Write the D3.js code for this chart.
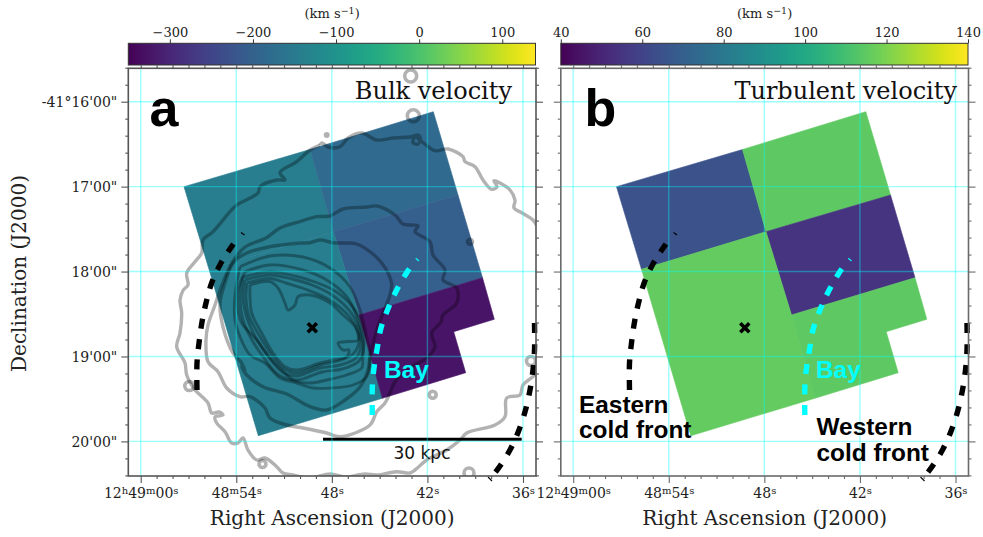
<!DOCTYPE html>
<html><head><meta charset="utf-8">
<script src="https://cdn.jsdelivr.net/npm/d3@7"></script>
<style>html,body{margin:0;padding:0;background:#fff}svg{display:block}</style>
</head><body><svg id="c" width="983" height="537"></svg>
<script>
// Values: velocities per spectral region (km/s)
const regionNames = ["NW","NE","E","SW","SE"];
const bulkVelocity = [-144,-183,-203,-144,-325];
const turbulentVelocity = [65,115,55,116,115];
// Region outlines, contours and fronts in sky-map pixels
const regionNW = [[184,186.7],[310,149.5],[333.5,231.7],[209,269.3]];
const regionNE = [[310,149.5],[433.3,111.7],[458,195],[333.5,231.7]];
const regionE  = [[333.5,231.7],[458,195],[482.5,277.7],[359,315]];
const regionSW = [[209,269.3],[333.5,231.7],[359,315],[382.3,398.3],[258.3,435.7]];
const regionSE = [[359,315],[482.5,277.7],[494.3,319.3],[453.7,331.7],[465.7,372.7],[382.3,398.3]];

const contourOuter = [[320,145],[322,143],[328,147],[340,146.7],[348,138],[361.7,133],[376.7,140],[393,138],[411.7,136.7],[418,135],[420.5,139],[418,144],[413,142.7],[415,137],[423,142.7],[435,150.7],[448,149],[463,156.7],[465,161.7],[475,166.7],[483,180],[491.7,189.3],[497,187],[494,180.7],[500,183],[510,190],[515,200],[514,208],[521.7,212.7],[533,220],[538,228]];
const contourOuter2 = [[540,370],[535,375],[523,385],[520,395],[506.7,398],[505,416.7],[495,425],[466.7,433],[460,440],[446.7,450],[426.7,460],[415,470],[410,473],[396.7,471.7],[376.7,475],[365,474],[345,477],[330,474],[310,478],[293,475],[283,473],[276.7,466.7],[265,458],[256.7,460],[248,450],[243,438],[238,443],[231.7,443],[225,431.7],[216.7,423],[215,417],[223,415],[219,412],[211.7,413],[208,403],[198,393],[195,390],[186.7,375],[185,363],[176.7,346.7],[180,333],[181.7,313],[180,300],[183.3,290],[188,285],[186.7,273],[195,261.7],[201.7,253],[203,240],[213,231.7],[230,211.7],[236.7,205],[258,193],[260,186.7],[276.7,180],[285,180],[280,172.7],[296.7,161.7],[310,150],[320,145]];
const contour2 = [[300,221.7],[316.7,216.7],[330,216],[343,209],[366.7,207],[377,206],[395,215],[403,224],[418,226],[415,231.7],[430,241.7],[433,255],[445,270],[443,280],[456.7,288],[456.7,303],[443,315],[441,322],[431.7,333],[435,347],[426.7,358],[411.7,366.7],[395,381.7],[390,393],[385,403],[376.7,411.7],[370,425],[340,436.7],[326.7,433],[303,428],[286.7,425],[270,418],[265,408],[250,396.7],[240,396.7],[226.7,388],[218,371.7],[208,361.7],[206,340],[208,325],[215,305],[222,285],[232,263],[245,247],[266,238],[280,228],[300,221.7]];
const contour3 = [[300,243],[310,242.7],[320,240],[333,242.7],[345,243],[356.7,244],[371.7,253],[381.7,263],[388,273],[391.7,284],[390,295],[383,313],[376.7,330],[370,357],[368,370],[360,387],[345,400],[326.7,410],[310,406.7],[286.7,394],[263,386.7],[246.7,375],[241.7,366.7],[245,371],[241,362],[233,353],[223,327],[220,303],[225,283],[233,263],[246.7,253],[270,246.7],[300,243]];
const contour4 = [[240,266.7],[270,256],[303,257],[330,268],[350,287],[360,310],[366.7,337],[370,357],[366.7,376.7],[353,385],[330,388],[313,388],[296.7,383],[280,378],[265,363],[250,355],[240,336.7],[235,320],[235,295],[240,266.7]];
const contour5 = [[245,271.7],[270,265],[303,270],[326.7,280],[346.7,296.7],[358,320],[363,343],[362.7,360],[361.7,368],[346.7,375],[326.7,380],[310,383],[293,380],[281.7,370],[270,358],[256.7,340],[241.7,323],[238,310],[238,290],[245,271.7]];
const contour6 = [[243,277],[270,272],[295,276],[315,282],[335,291],[352,306],[362,325],[364,345],[359,361],[342,369],[322,372],[297,380],[279,375],[264,358],[252,340],[243,320],[240,298],[243,277]];
const contour7 = [[245,280],[270,275],[292,279],[312,285],[332,295],[349,310],[359,328],[361,345],[356,358],[340,365],[320,368],[297,376],[282,372],[268,356],[256,338],[247,318],[243,298],[245,280]];
const contour8 = [[247,283],[270,278.5],[286,283],[305,289],[328,299],[346,313],[357,329],[359,342],[353,354],[338,361],[320,365],[297,373],[284,369],[271,354],[259,335],[249,316],[246,298],[247,283]];
const contour9 = [[250,285],[270,281.7],[278,288],[285,303],[288,310],[295,305],[298,296.7],[310,295],[330,303],[343,315],[355,326.7],[358,340],[345,341.7],[338,343],[343,350],[349,350],[346.7,356.7],[333,360],[320,363],[296.7,370],[285,366.7],[273,353],[261.7,333],[251.7,313],[250,296.7],[250,285]];
const contourRings = [[410.7,76,6],[413.3,115.7,6],[262.5,464,3.5],[189.3,386,4.5],[432.7,394.7,3.5],[531,361,4.5],[469,473,5],[470,241.7,2.5]];
const contourDots = [[326.7,135,3]];

const frontEast = [[197,390],[197,363],[199,343],[202,322],[206,303],[212,282],[221,263],[232,246],[239,236]];
const frontWest = [[534.5,323],[534.5,350],[533,370],[530,390],[525.5,410],[519,430],[510.5,449],[500,466],[494,474]];
const frontBay  = [[372.3,415],[372.3,388],[374,368],[377.3,348],[381,328],[388.3,308],[396.7,290],[407.3,271.7],[412,265]];
const tailEast = [[241,232.5],[244.5,235]];
const tailWest = [[488,477],[492,481]];
const tailBay  = [[415.7,258.3],[419,261]];
const nucleus = [312.3,327.7];
const scaleBar = [323,521.7,439.3];

const raTicks = [60,54,48,42,36];
const raLabels = [["12","h","49","m","00","s"],["48","m","54","s"],["48","s"],["42","s"],["36","s"]];
const decTicks = [16,17,18,19,20];
const decLabels = ["-41°16'00\"","17'00\"","18'00\"","19'00\"","20'00\""];
const bulkCbarTicks = [-300,-200,-100,0,100];
const turbCbarTicks = [40,60,80,100,120,140];

const regions = [regionNW,regionNE,regionE,regionSW,regionSE];
const svg = d3.select("#c");
const serif = "'DejaVu Serif', serif", sans = "'Liberation Sans', Arial, sans-serif";
const frameTop=68.3, frameBottom=476;

function panel(o){
  const L=o.left, R=L+407.7;
  const g=svg.append("g");
  const mx=d3.scaleLinear().domain([128.3,536]).range([L,R]);
  const my=d3.scaleLinear().domain([68.3,476]).range([frameTop,frameBottom]);
  const ra=d3.scaleLinear().domain([60,36]).range([mx(140.7),mx(523)]);
  const dec=d3.scaleLinear().domain([16,20]).range([my(101.7),my(441.4)]);
  const id="clip"+o.letter;
  svg.append("clipPath").attr("id",id).append("rect").attr("x",L).attr("y",frameTop).attr("width",R-L).attr("height",frameBottom-frameTop);

  // colour bar
  const cs=d3.scaleLinear().domain(o.cdomain).range([L,R-0.5]);
  const col=d3.scaleSequential(d3.interpolateViridis).domain(o.cdomain);
  const gradId="grad"+o.letter;
  const grad=svg.append("defs").append("linearGradient").attr("id",gradId);
  d3.range(0,33).forEach(i=>{
    grad.append("stop").attr("offset",(i/32*100)+"%").attr("stop-color",d3.interpolateViridis(i/32));
  });
  g.append("rect").attr("x",L).attr("y",43.3).attr("width",R-0.5-L).attr("height",21.7).attr("fill",`url(#${gradId})`).attr("stroke","#333").attr("stroke-width",1);
  const cax=g.append("g").attr("transform","translate(0,43.3)").call(d3.axisTop(cs).tickValues(o.cticks).tickSize(4).tickSizeOuter(0).tickFormat(d=>String(d).replace("-","\u2212")));
  cax.select(".domain").remove();
  cax.selectAll("line").attr("stroke","#333");
  cax.selectAll("text").attr("font-family",serif).attr("font-size",13).attr("fill","#222").attr("y",-6.5);
  const cl=g.append("text").attr("x",(L+R)/2).attr("y",18).attr("text-anchor","middle").attr("font-family",serif).attr("font-size",13).attr("fill","#222");
  cl.append("tspan").text("(km s");
  cl.append("tspan").attr("dy",-4.5).attr("font-size",9.5).text("\u22121");
  cl.append("tspan").attr("dy",4.5).text(")");

  // regions
  const line=d3.line().x(d=>mx(d[0])).y(d=>my(d[1]));
  g.selectAll(".cell").data(regionNames).join("path")
    .attr("d",(d,i)=>line(regions[i])+"Z")
    .attr("fill",(d,i)=>col(o.values[i])).attr("stroke",(d,i)=>col(o.values[i])).attr("stroke-width",0.6);

  // contours
  if(o.contours){
    const cg=g.append("g").attr("clip-path",`url(#${id})`).attr("fill","none").attr("stroke","#000").attr("stroke-opacity",0.3).attr("stroke-linejoin","round");
    const curve=d3.line().x(d=>mx(d[0])).y(d=>my(d[1])).curve(d3.curveCatmullRom.alpha(0.5));
    [contourOuter,contourOuter2,contour2,contour3].forEach(c=>cg.append("path").attr("d",curve(c)).attr("stroke-width",3.4));
    [contour4,contour5,contour6,contour7,contour8,contour9].forEach(c=>cg.append("path").attr("d",curve(c)).attr("stroke-width",2.9));
    cg.selectAll(".ring").data(contourRings).join("circle").attr("cx",d=>mx(d[0])).attr("cy",d=>my(d[1])).attr("r",d=>d[2]).attr("stroke-width",3.6);
    cg.selectAll(".dot").data(contourDots).join("circle").attr("cx",d=>mx(d[0])).attr("cy",d=>my(d[1])).attr("r",d=>d[2]).attr("fill","#000").attr("fill-opacity",0.3).attr("stroke","none");
    // scale bar
    g.append("line").attr("x1",mx(scaleBar[0])).attr("x2",mx(scaleBar[1])).attr("y1",my(scaleBar[2])).attr("y2",my(scaleBar[2])).attr("stroke","#000").attr("stroke-width",3);
    g.append("text").attr("x",mx(422)).attr("y",my(459)).attr("text-anchor","middle").attr("font-family","'DejaVu Sans',sans-serif").attr("font-size",17).attr("fill","#111").text("30 kpc");
  }

  // grid
  const grid=g.append("g").attr("stroke","#00ffff").attr("stroke-opacity",0.38).attr("stroke-width",1.4);
  grid.selectAll(".gx").data(raTicks).join("line").attr("x1",d=>ra(d)).attr("x2",d=>ra(d)).attr("y1",frameTop).attr("y2",frameBottom);
  grid.selectAll(".gy").data(decTicks).join("line").attr("y1",d=>dec(d)).attr("y2",d=>dec(d)).attr("x1",L).attr("x2",R);

  // fronts
  const fl=d3.line().x(d=>mx(d[0])).y(d=>my(d[1])).curve(d3.curveCatmullRom.alpha(0.5));
  [[frontEast,"#000"],[frontWest,"#000"],[frontBay,"#00ffff"]].forEach(([f,c],i)=>{
    g.append("path").attr("d",fl(f)).attr("fill","none").attr("stroke",c).attr("stroke-width",5.4)
      .attr("stroke-dasharray",i==1?"10 11":"10 10.5");
  });
  [[tailEast,"#000"],[tailWest,"#000"],[tailBay,"#00ffff"]].forEach(([f,c])=>{
    g.append("path").attr("d",line(f)).attr("fill","none").attr("stroke",c).attr("stroke-width",1.1);
  });
  g.append("path").attr("transform",`translate(${mx(nucleus[0])},${my(nucleus[1])})`)
    .attr("d",d3.symbol(d3.symbolTimes,55)()).attr("stroke","#000").attr("stroke-width",3.6).attr("fill","none");

  // axes with ticks
  const raMinor=d3.range(36,61).filter(d=>!raTicks.includes(d));
  const decMinor=d3.range(78,103).map(d=>d/5).filter(d=>!decTicks.includes(d));
  const ax=g.append("g").attr("class","axes");
  function style(sel,c){sel.select(".domain").remove();sel.selectAll("line").attr("stroke",c).attr("stroke-width",1.1);}
  const tc=o.frame;
  const mk=(gen,tr)=>{const s=ax.append("g").attr("transform",tr).call(gen);style(s,tc);return s;};
  mk(d3.axisBottom(ra).tickValues(raMinor).tickSize(3).tickSizeOuter(0).tickFormat(""),`translate(0,${frameBottom})`);
  mk(d3.axisTop(ra).tickValues(raMinor).tickSize(3).tickSizeOuter(0).tickFormat(""),`translate(0,${frameTop})`);
  mk(d3.axisTop(ra).tickValues(raTicks).tickSize(3).tickSizeOuter(0).tickFormat(""),`translate(0,${frameTop})`);
  mk(d3.axisLeft(dec).tickValues(decMinor).tickSize(3).tickSizeOuter(0).tickFormat(""),`translate(${L},0)`);
  mk(d3.axisRight(dec).tickValues(decMinor).tickSize(3).tickSizeOuter(0).tickFormat(""),`translate(${R},0)`);
  mk(d3.axisRight(dec).tickValues(decTicks).tickSize(7).tickSizeOuter(0).tickFormat(""),`translate(${R},0)`);
  const yax=mk(d3.axisLeft(dec).tickValues(decTicks).tickSize(7).tickSizeOuter(0).tickFormat((d,i)=>o.ylabels?decLabels[i]:""),`translate(${L},0)`);
  yax.selectAll("text").attr("font-family",serif).attr("font-size",14).attr("fill","#222").attr("x",-11).attr("dy","0.36em");
  const xax=mk(d3.axisBottom(ra).tickValues(raTicks).tickSize(7).tickSizeOuter(0).tickFormat(""),`translate(0,${frameBottom})`);
  const xt=xax.selectAll(".tick").select("text").attr("font-family",serif).attr("font-size",14).attr("fill","#222").attr("y",21.5).attr("dy",null);
  xt.each(function(d,i){
    const t=d3.select(this);
    raLabels[i].forEach((p,j)=>{
      const sup=j%2==1;
      t.append("tspan").attr("font-size",sup?10:14).attr("dy",sup?-4:(j?4:0)).text(p);
    });
  });
  g.append("rect").attr("x",L).attr("y",frameTop).attr("width",R-L).attr("height",frameBottom-frameTop).attr("fill","none").attr("stroke",o.frame).attr("stroke-width",1.6);

  // texts
  g.append("text").attr("x",(L+R)/2).attr("y",525).attr("text-anchor","middle").attr("font-family",serif).attr("font-size",20).attr("fill","#222").text("Right Ascension (J2000)");
  if(o.ylabels) g.append("text").attr("transform","translate(26,273.5) rotate(-90)").attr("text-anchor","middle").attr("font-family",serif).attr("font-size",20).attr("fill","#222").text("Declination (J2000)");
  g.append("text").attr("x",o.letterX).attr("y",126).attr("font-family",sans).attr("font-weight",700).attr("font-size",52).attr("fill","#000").text(o.letter);
  g.append("text").attr("x",o.titleEnd).attr("y",99).attr("text-anchor","end").attr("font-family",serif).attr("font-size",24).attr("fill","#111").text(o.title);
  const bold=(x,y,s,c)=>g.append("text").attr("x",x).attr("y",y).attr("font-family",sans).attr("font-weight",700).attr("font-size",24.4).attr("fill",c).text(s);
  bold(mx(o.bayX),378,"Bay","#00ffff");
  return {bold};
}

panel({left:128.3,cdomain:[-350,140],cticks:bulkCbarTicks,values:bulkVelocity,contours:true,ylabels:true,letter:"a",letterX:149.5,title:"Bulk velocity",titleEnd:512,frame:"#555",bayX:384});
const pb=panel({left:560.8,cdomain:[40,140],cticks:turbCbarTicks,values:turbulentVelocity,contours:false,ylabels:false,letter:"b",letterX:584.5,title:"Turbulent velocity",titleEnd:957,frame:"#6a6a6a",bayX:383.5});
pb.bold(579,413.3,"Eastern","#000");
pb.bold(579,438.3,"cold front","#000");
pb.bold(816.5,435,"Western","#000");
pb.bold(816.5,460.7,"cold front","#000");
</script></body></html>
